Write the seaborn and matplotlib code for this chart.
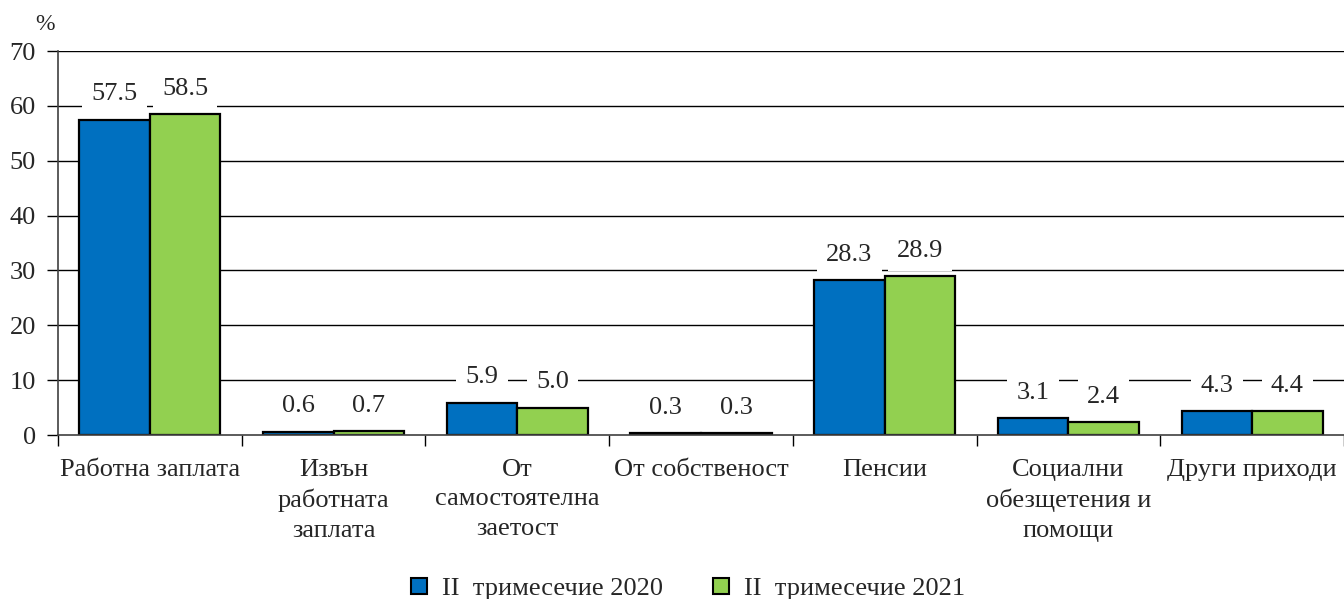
import matplotlib
matplotlib.use("Agg")
import matplotlib.pyplot as plt
import seaborn as sns
import pandas as pd
from matplotlib.patches import Patch

categories = ["Работна заплата", "Извън\nработната\nзаплата", "От\nсамостоятелна\nзаетост",
              "От собственост", "Пенсии", "Социални\nобезщетения и\nпомощи", "Други приходи"]
series_names = ["II  тримесечие 2020", "II  тримесечие 2021"]
values_2020 = [57.5, 0.6, 5.9, 0.3, 28.3, 3.1, 4.3]
values_2021 = [58.5, 0.7, 5.0, 0.3, 28.9, 2.4, 4.4]
colors = ["#0070C0", "#92D050"]

df = pd.DataFrame({
    "cat": categories * 2,
    "val": values_2020 + values_2021,
    "series": [series_names[0]] * len(categories) + [series_names[1]] * len(categories),
})

sns.set_theme(style="white")
plt.rcParams["font.family"] = ["Liberation Serif", "DejaVu Serif"]

fig = plt.figure(figsize=(13.44, 5.99), dpi=100)
ax = fig.add_axes([58/1344, 1-435/599, 1-58/1344, 384/599])

for yv in range(10, 71, 10):
    ax.axhline(yv, color="black", lw=1.0, zorder=0)

sns.barplot(data=df, x="cat", y="val", hue="series", palette=colors, width=0.768,
            gap=0, edgecolor="black", linewidth=1.6, ax=ax, legend=False, zorder=2,
            saturation=1)

ax.set_ylim(0, 70)
ax.set_xlim(-0.5, len(categories) - 0.5)
ax.set_yticks(range(0, 71, 10))
ax.tick_params(axis="y", labelsize=19, length=8, width=1, color="black", direction="out", left=True, pad=8)
ax.set_xticks(range(len(categories)))
ax.set_xticklabels(categories, fontsize=19, linespacing=1.45)
ax.tick_params(axis="x", which="major", length=0, pad=17)
ax.set_xticks([i - 0.5 for i in range(len(categories) + 1)], minor=True)
ax.tick_params(axis="x", which="minor", length=8, width=1, color="black", direction="out", bottom=True)
ax.set_xlabel("")
ax.set_ylabel("")
for s in ["top", "right"]:
    ax.spines[s].set_visible(False)
ax.spines["left"].set_color("#404040")
ax.spines["bottom"].set_color("#404040")
ax.spines["left"].set_linewidth(1.2)
ax.spines["bottom"].set_linewidth(1.2)

for cont in ax.containers:
    for bar in cont:
        h = bar.get_height()
        ax.text(bar.get_x() + bar.get_width() / 2, h + 4.6, f"{h:.1f}", ha="center", va="center",
                fontsize=19, zorder=5,
                bbox=dict(boxstyle="square,pad=0.35", fc="white", ec="none"))

fig.text(45/1344, 1-25/599, "%", fontsize=17, ha="center", va="center")

handles = [Patch(facecolor=c, edgecolor="black", linewidth=1.5) for c in colors]
fig.legend(handles, series_names, loc="center", bbox_to_anchor=(0.512, 1-589/599), ncol=2,
           frameon=False, fontsize=19, handlelength=0.6, handleheight=0.6, columnspacing=1.9,
           handletextpad=0.57)

fig.savefig("out.png", dpi=100)
